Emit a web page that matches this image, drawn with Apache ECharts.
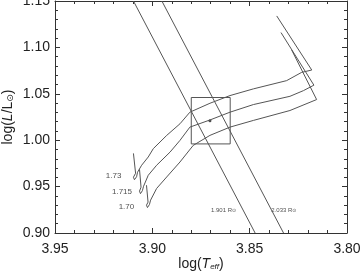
<!DOCTYPE html>
<html>
<head>
<meta charset="utf-8">
<script src="https://cdn.jsdelivr.net/npm/echarts@6/dist/echarts.min.js"></script>
<style>
    html, body { margin: 0; padding: 0; background: #fff; }
    #hr { width: 360px; height: 272px; }
</style>
</head>
<body>
<div id="hr"></div>
<script type="text/javascript">
    // evolutionary tracks, [log Teff, log L]
    var track173 = [
        [3.9097, 0.9858], [3.9086, 0.9644], [3.9097, 0.9601], [3.9092, 0.9574], [3.9081, 0.9606],
        [3.9076, 0.9655], [3.9055, 0.9730], [3.9021, 0.9819], [3.8995, 0.9909], [3.8926, 1.0052],
        [3.8858, 1.0177], [3.8807, 1.0302], [3.8704, 1.0398], [3.8601, 1.0481], [3.8481, 1.0553],
        [3.8310, 1.0642], [3.8233, 1.0731], [3.8181, 1.0756], [3.8361, 1.1339]
    ];
    var track1715 = [
        [3.9066, 0.9687], [3.9058, 0.9494], [3.9066, 0.9451], [3.9061, 0.9424], [3.9051, 0.9456],
        [3.9045, 0.9504], [3.9021, 0.9622], [3.8978, 0.9730], [3.8909, 0.9872], [3.8858, 0.9998],
        [3.8807, 1.0141], [3.8704, 1.0218], [3.8601, 1.0302], [3.8481, 1.0384], [3.8293, 1.0473],
        [3.8224, 1.0534], [3.8170, 1.0593], [3.8339, 1.1160]
    ];
    var track170 = [
        [3.9030, 0.9515], [3.9022, 0.9333], [3.9030, 0.9300], [3.9025, 0.9274], [3.9015, 0.9306],
        [3.9009, 0.9354], [3.8978, 0.9480], [3.8926, 0.9604], [3.8858, 0.9765], [3.8790, 0.9944],
        [3.8704, 1.0052], [3.8601, 1.0141], [3.8481, 1.0213], [3.8293, 1.0320], [3.8156, 1.0438],
        [3.8284, 1.0971]
    ];
    // constant radius lines
    var radius1901 = [[3.9097, 1.15], [3.8472, 0.90]];
    var radius2033 = [[3.8951, 1.15], [3.8326, 0.90]];
    // observed star and its error box
    var star = [[3.8704, 1.021]];
    var errorBox = [[3.880, 0.996], [3.860, 0.996], [3.860, 1.046], [3.880, 1.046], [3.880, 0.996]];
    // labels
    var massLabels = ['1.73', '1.715', '1.70'];
    var massLabelAt = [[3.9199, 0.9612], [3.9156, 0.9445], [3.9133, 0.9284]];
    var radiusLabels = ['1.901', '2.033'];
    var radiusLabelAt = [[3.8634, 0.9247], [3.8324, 0.9247]];

    var lineCol = '#555';
    var textCol = '#222';
    var font = '"Liberation Sans", Arial, sans-serif';

    function axisX(pos, labels) {
        return {
            type: 'value', position: pos, min: 3.80, max: 3.95, interval: 0.05, inverse: true,
            axisLine: { onZero: false, lineStyle: { color: '#333', width: 1 } },
            axisTick: { inside: true, length: 5, lineStyle: { color: '#333' } },
            minorTick: { show: true, splitNumber: 5, length: 3, lineStyle: { color: '#333' } },
            splitLine: { show: false },
            axisLabel: {
                show: labels, margin: 9, color: textCol, fontSize: 14, fontFamily: font,
                formatter: function (v) { return v.toFixed(2); }
            },
            name: labels ? '{n|log(}{i|T}{s|eff}{n|)}' : '',
            nameLocation: 'middle', nameGap: 24, nameMoveOverlap: false,
            nameTextStyle: {
                rich: {
                    n: { fontSize: 14, color: textCol, fontFamily: font },
                    i: { fontSize: 14, color: textCol, fontStyle: 'italic', fontFamily: font },
                    s: { fontSize: 8, color: textCol, fontStyle: 'italic', fontFamily: font, padding: [6, 0, 0, 0] }
                }
            }
        };
    }
    function axisY(pos, labels) {
        return {
            type: 'value', position: pos, min: 0.90, max: 1.15, interval: 0.05,
            axisLine: { show: true, onZero: false, lineStyle: { color: '#333', width: 1 } },
            axisTick: { show: true, inside: true, length: 5, lineStyle: { color: '#333' } },
            minorTick: { show: true, splitNumber: 5, length: 3, lineStyle: { color: '#333' } },
            splitLine: { show: false },
            axisLabel: {
                show: labels, margin: 5, color: textCol, fontSize: 14, fontFamily: font,
                formatter: function (v) { return v.toFixed(2); }
            },
            name: labels ? '{n|log(}{i|L}{n|/L}{s|⊙}{n|)}' : '',
            nameLocation: 'middle', nameGap: 40, nameMoveOverlap: false,
            nameTextStyle: {
                rich: {
                    n: { fontSize: 14, color: textCol, fontFamily: font },
                    i: { fontSize: 14, color: textCol, fontStyle: 'italic', fontFamily: font },
                    s: { fontSize: 9, color: textCol, fontFamily: '"DejaVu Sans", sans-serif', padding: [5, 0, 0, 0] }
                }
            }
        };
    }
    function track(d) {
        return {
            type: 'line', data: d, showSymbol: false, symbol: 'none', silent: true,
            lineStyle: { color: lineCol, width: 1 }
        };
    }
    function labelPts(at, txt, size, rich) {
        return {
            type: 'scatter', symbolSize: 0, silent: true,
            data: at.map(function (p, i) { return { value: p, name: txt[i] }; }),
            label: {
                show: true, position: 'inside', color: textCol, fontSize: size, fontFamily: font,
                formatter: rich ? function (p) { return p.name + ' R{s|⊙}'; } : '{b}',
                rich: rich ? { s: { fontSize: 5, color: textCol, fontFamily: '"DejaVu Sans", sans-serif', padding: [2, 0, 0, 0] } } : {}
            }
        };
    }

    var myChart = echarts.init(document.getElementById('hr'));
    var option = {
        animation: false,
        backgroundColor: '#fff',
        grid: { left: 55, right: 13, top: 1, bottom: 39, containLabel: false, outerBoundsMode: 'none' },
        xAxis: [axisX('bottom', true), axisX('top', false)],
        yAxis: [axisY('left', true), axisY('right', false)],
        series: [
            track(track173),
            track(track1715),
            track(track170),
            track(radius1901),
            track(radius2033),
            track(errorBox),
            {
                type: 'scatter', data: star, symbol: 'circle', symbolSize: 3,
                itemStyle: { color: '#222' }
            },
            labelPts(massLabelAt, massLabels, 8, false),
            labelPts(radiusLabelAt, radiusLabels, 6, true)
        ]
    };
    myChart.setOption(option);
</script>
</body>
</html>
